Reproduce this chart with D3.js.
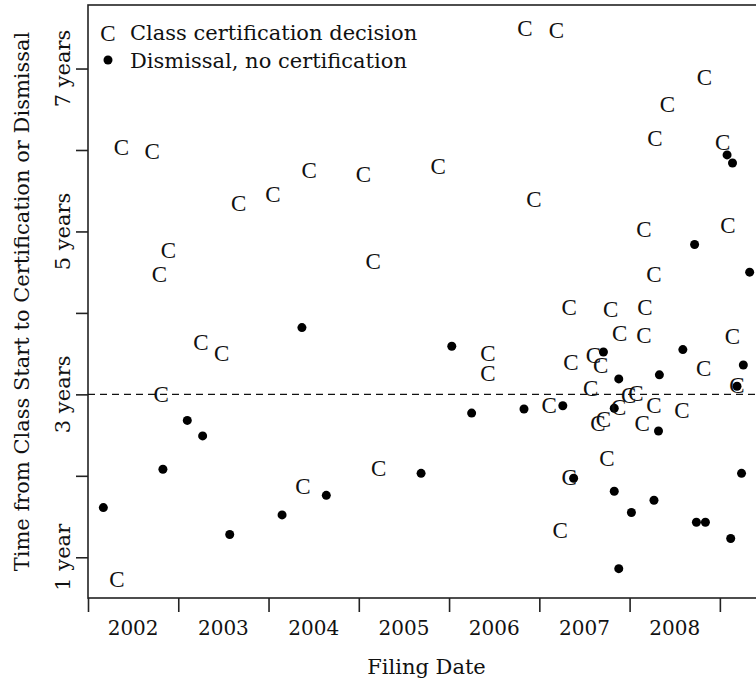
<!DOCTYPE html>
<meta charset="utf-8" />
<style>
  body { margin: 0; background: #fff; }
  svg text { font-family: "DejaVu Serif", serif; fill: #111; }
  .mark { font-family: "Liberation Serif", serif; font-size: 23px; }
  .axis path, .axis line { stroke: #222; stroke-width: 1.6px; }
</style>
<body>
<script src="https://d3js.org/d3.v7.min.js"></script>
<script>
  // filing date (decimal year), time to certification decision (years)
  var certYear = [2002.32, 2002.37, 2002.71, 2002.89, 2002.79, 2002.81, 2003.25, 2003.48, 2003.67, 2004.05,
    2004.45, 2005.05, 2005.16, 2005.22, 2004.38, 2005.88, 2006.84, 2007.19, 2006.94, 2006.43,
    2006.43, 2008.83, 2008.42, 2008.28, 2009.03, 2008.16, 2009.09, 2008.27, 2007.33, 2007.79,
    2008.17, 2007.89, 2008.16, 2009.14, 2007.35, 2007.60, 2007.68, 2008.82, 2009.19, 2007.57,
    2007.11, 2007.88, 2007.99, 2008.07, 2008.27, 2008.58, 2007.65, 2007.71, 2008.14, 2007.75,
    2007.33, 2007.23];
  var certTime = [0.73, 6.03, 5.99, 4.77, 4.47, 3.00, 3.64, 3.51, 5.35, 5.46,
    5.75, 5.70, 4.64, 2.09, 1.87, 5.80, 7.50, 7.47, 5.40, 3.51,
    3.26, 6.90, 6.56, 6.14, 6.09, 5.03, 5.08, 4.48, 4.07, 4.05,
    4.07, 3.75, 3.73, 3.71, 3.39, 3.48, 3.36, 3.32, 3.11, 3.07,
    2.87, 2.84, 2.99, 3.02, 2.87, 2.80, 2.65, 2.70, 2.65, 2.22,
    1.98, 1.33];

  // filing date, time to dismissal without certification (years)
  var dismYear = [2002.17, 2002.83, 2003.10, 2003.27, 2003.57, 2004.15, 2004.37, 2004.64, 2005.69, 2006.03,
    2006.25, 2006.83, 2007.26, 2007.38, 2007.71, 2007.88, 2008.33, 2008.59, 2009.26, 2009.19,
    2007.83, 2008.32, 2007.83, 2008.27, 2008.02, 2008.74, 2008.84, 2009.12, 2009.24, 2007.88,
    2008.72, 2009.33, 2009.08, 2009.14];
  var dismTime = [1.61, 2.08, 2.68, 2.49, 1.28, 1.52, 3.82, 1.76, 2.03, 3.59,
    2.77, 2.82, 2.86, 1.97, 3.52, 3.19, 3.24, 3.55, 3.36, 3.10,
    2.83, 2.55, 1.81, 1.70, 1.55, 1.43, 1.43, 1.23, 2.03, 0.86,
    4.84, 4.50, 5.94, 5.84];

  var yearTicks = [2002, 2003, 2004, 2005, 2006, 2007, 2008, 2009];
  var yearLabels = [2002, 2003, 2004, 2005, 2006, 2007, 2008];
  var timeTicks = [1, 2, 3, 4, 5, 6, 7];
  var timeLabels = [[1, "1 year"], [3, "3 years"], [5, "5 years"], [7, "7 years"]];
  var legendItems = ["Class certification decision", "Dismissal, no certification"];

  var W = 756, H = 684;
  var pLeft = 88, pRight = 765, pTop = 5, pBottom = 598;

  var x = d3.scaleLinear().domain([2002, 2009.5]).range([pLeft, pRight]);
  var y = d3.scaleLinear().domain([0.5, 7.78]).range([pBottom, pTop]);

  var svg = d3.select("body").append("svg").attr("width", W).attr("height", H);

  // box round the plot
  svg.append("rect")
    .attr("x", pLeft).attr("y", pTop)
    .attr("width", pRight - pLeft).attr("height", pBottom - pTop)
    .attr("fill", "none").attr("stroke", "#222").attr("stroke-width", 1.6);

  // x axis
  var xAxis = svg.append("g").attr("class", "axis")
    .attr("transform", "translate(0," + pBottom + ")")
    .call(d3.axisBottom(x).tickValues(yearTicks).tickFormat("").tickSize(14).tickSizeOuter(0));
  xAxis.select(".domain").remove();

  svg.selectAll(".ylab").data(yearLabels).enter().append("text")
    .attr("x", function (d) { return x(d + 0.5); })
    .attr("y", 635)
    .attr("text-anchor", "middle")
    .style("font-size", "20px")
    .text(function (d) { return d; });

  svg.append("text")
    .attr("x", (pLeft + pRight) / 2).attr("y", 674)
    .attr("text-anchor", "middle")
    .style("font-size", "21px")
    .text("Filing Date");

  // y axis
  var yAxis = svg.append("g").attr("class", "axis")
    .attr("transform", "translate(" + pLeft + ",0)")
    .call(d3.axisLeft(y).tickValues(timeTicks).tickFormat("").tickSize(12).tickSizeOuter(0));
  yAxis.select(".domain").remove();

  svg.selectAll(".tlab").data(timeLabels).enter().append("text")
    .attr("transform", function (d) { return "translate(70," + y(d[0]) + ") rotate(-90)"; })
    .attr("text-anchor", "middle")
    .style("font-size", "21px")
    .text(function (d) { return d[1]; });

  svg.append("text")
    .attr("transform", "translate(29," + (pTop + pBottom) / 2 + ") rotate(-90)")
    .attr("text-anchor", "middle")
    .style("font-size", "21px")
    .text("Time from Class Start to Certification or Dismissal");

  // reference line at 3 years
  svg.append("line")
    .attr("x1", pLeft).attr("x2", pRight)
    .attr("y1", y(3)).attr("y2", y(3))
    .attr("stroke", "#111").attr("stroke-width", 1.4)
    .attr("stroke-dasharray", "7,5");

  // dismissals
  svg.selectAll(".dot").data(dismYear).enter().append("circle")
    .attr("class", "dot")
    .attr("cx", function (d) { return x(d); })
    .attr("cy", function (d, i) { return y(dismTime[i]); })
    .attr("r", 4.5)
    .attr("fill", "#000");

  // certification decisions
  svg.selectAll(".cert").data(certYear).enter().append("text")
    .attr("class", "mark")
    .attr("x", function (d) { return x(d); })
    .attr("y", function (d, i) { return y(certTime[i]); })
    .attr("dy", "0.34em")
    .attr("text-anchor", "middle")
    .text("C");

  // legend
  var lg = svg.append("g");
  lg.append("text").attr("class", "mark")
    .attr("x", 108).attr("y", 33).attr("dy", "0.34em")
    .attr("text-anchor", "middle").text("C");
  lg.append("circle").attr("cx", 108).attr("cy", 60).attr("r", 4.5).attr("fill", "#000");
  lg.selectAll(".lt").data(legendItems).enter().append("text")
    .attr("x", 130)
    .attr("y", function (d, i) { return 40 + i * 28; })
    .style("font-size", "21px")
    .text(function (d) { return d; });
</script>
</body>
